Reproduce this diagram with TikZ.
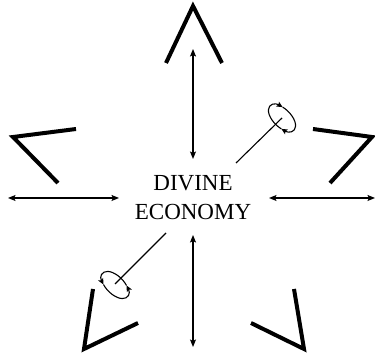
\documentclass[tikz,border=0pt]{standalone}
\usepackage{fontspec}
\setmainfont{Liberation Serif}
\usetikzlibrary{arrows.meta,calc,positioning}
\tikzset{
  chevron/.style={
    line width=4pt,
    line join=miter
  },
  dbl/.style={
    {Stealth[length=7.5pt,width=6pt,inset=1.5pt]}-{Stealth[length=7.5pt,width=6pt,inset=1.5pt]},
    line width=1.2pt
  },
  axis/.style={
    line width=1.1pt
  },
  spin/.style={
    -{Stealth[length=6pt,width=5.5pt,inset=1.2pt]},
    line width=1.1pt
  },
  centre/.style={
    align=center,
    inner sep=0pt,
    font=\fontsize{23}{29}\selectfont
  }
}

\begin{document}
\begin{tikzpicture}[x=1pt,y=1pt]
\useasboundingbox (0,0) rectangle (375,-355);
\node[centre] (econ) at (193,-198) {DIVINE\\ECONOMY};
% the five chevrons
\draw[chevron] (166,-63) -- (193,-6) -- (222,-63);
\draw[chevron] (76,-129) -- (13,-137) -- (58,-183);
\draw[chevron] (313,-129) -- (372,-137) -- (330,-183);
\draw[chevron] (93,-289) -- (84,-349) -- (138,-323);
\draw[chevron] (294,-289) -- (304,-349) -- (251,-323);
% arrow ends
\coordinate (n1) at (193,-49);
\coordinate (n2) at (193,-159);
\coordinate (s1) at (193,-235);
\coordinate (s2) at (193,-347);
\coordinate (w1) at (8,-198);
\coordinate (w2) at (119,-198);
\coordinate (e1) at (269,-198);
\coordinate (e2) at (375,-198);
\coordinate (ne1) at (236,-163);
\coordinate (ne2) at (282,-118);
\coordinate (sw1) at (166,-233);
\coordinate (sw2) at (115,-284);
\draw[dbl] (n1) -- (n2);
\draw[dbl] (s1) -- (s2);
\draw[dbl] (w1) -- (w2);
\draw[dbl] (e1) -- (e2);
\draw[axis] (ne1) -- (ne2);
\draw[axis] (sw1) -- (sw2);
% rotation marks
\begin{scope}[shift={(ne2)},rotate=-45]
  \draw[spin] (295:17 and 9) arc[start angle=295,end angle=115,x radius=17,y radius=9];
  \draw[spin] (115:17 and 9) arc[start angle=115,end angle=-65,x radius=17,y radius=9];
\end{scope}
\begin{scope}[shift={(115,-285)},rotate=-45]
  \draw[spin] (60:17 and 9) arc[start angle=60,end angle=240,x radius=17,y radius=9];
  \draw[spin] (240:17 and 9) arc[start angle=240,end angle=420,x radius=17,y radius=9];
\end{scope}
\end{tikzpicture}
\end{document}
